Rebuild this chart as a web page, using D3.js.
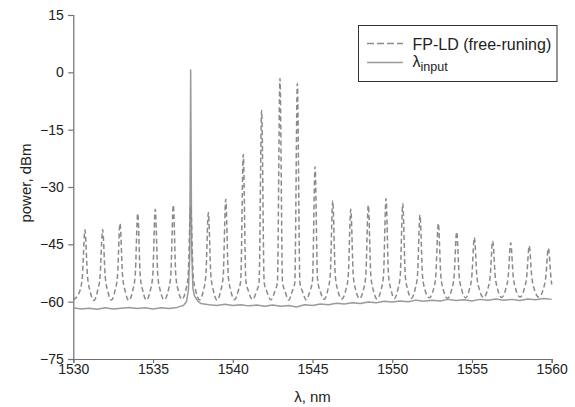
<!DOCTYPE html>
<html>
<head>
<meta charset="utf-8">
<script src="https://cdn.jsdelivr.net/npm/d3@7"></script>
<style>
  html, body { margin: 0; padding: 0; background: #fff; }
  svg { display: block; font-family: "Liberation Sans", Arial, sans-serif; }
</style>
</head>
<body>
<svg id="chart" width="575" height="407"></svg>
<script>
// ---- data ----
const xTicks = [1530, 1535, 1540, 1545, 1550, 1555, 1560];
const yTicks = [15, 0, -15, -30, -45, -60, -75];

// FP-LD (free-runing) spectrum, wavelength (nm) / power (dBm)
const fpWl = [
  1530.00, 1530.41, 1530.57, 1530.73, 1530.89, 1531.05, 1531.285,
  1531.52, 1531.68, 1531.84, 1532.00, 1532.16, 1532.385,
  1532.61, 1532.77, 1532.93, 1533.09, 1533.25, 1533.485,
  1533.72, 1533.88, 1534.04, 1534.20, 1534.36, 1534.59,
  1534.82, 1534.98, 1535.14, 1535.30, 1535.46, 1535.705,
  1535.95, 1536.11, 1536.27, 1536.43, 1536.59, 1536.815,
  1537.04, 1537.20, 1537.36, 1537.52, 1537.68, 1537.915,
  1538.15, 1538.31, 1538.47, 1538.63, 1538.79, 1539.015,
  1539.24, 1539.40, 1539.56, 1539.72, 1539.88, 1540.11,
  1540.34, 1540.50, 1540.66, 1540.82, 1540.98, 1541.235,
  1541.49, 1541.65, 1541.81, 1541.97, 1542.13, 1542.385,
  1542.64, 1542.80, 1542.96, 1543.12, 1543.28, 1543.505,
  1543.73, 1543.89, 1544.05, 1544.21, 1544.37, 1544.605,
  1544.84, 1545.00, 1545.16, 1545.32, 1545.48, 1545.715,
  1545.95, 1546.11, 1546.27, 1546.43, 1546.59, 1546.835,
  1547.08, 1547.24, 1547.40, 1547.56, 1547.72, 1547.95,
  1548.18, 1548.34, 1548.50, 1548.66, 1548.82, 1549.055,
  1549.29, 1549.45, 1549.61, 1549.77, 1549.93, 1550.135,
  1550.34, 1550.50, 1550.66, 1550.82, 1550.98, 1551.20,
  1551.42, 1551.58, 1551.74, 1551.90, 1552.06, 1552.315,
  1552.57, 1552.73, 1552.89, 1553.05, 1553.21, 1553.465,
  1553.72, 1553.88, 1554.04, 1554.20, 1554.36, 1554.595,
  1554.83, 1554.99, 1555.15, 1555.31, 1555.47, 1555.725,
  1555.98, 1556.14, 1556.30, 1556.46, 1556.62, 1556.865,
  1557.11, 1557.27, 1557.43, 1557.59, 1557.75, 1558.01,
  1558.27, 1558.43, 1558.59, 1558.75, 1558.91, 1559.19,
  1559.47, 1559.63, 1559.79, 1559.95, 1560.00
];
const fpDb = [
  -59.6, -57.2, -53.3, -41.2, -53.3, -57.2, -59.7,
  -57.2, -53.3, -41.1, -53.3, -57.2, -59.6,
  -57.2, -53.3, -39.5, -53.3, -57.2, -59.7,
  -57.2, -53.3, -36.9, -53.3, -57.2, -59.6,
  -57.2, -53.3, -35.8, -53.3, -57.2, -59.5,
  -57.2, -53.3, -34.7, -53.3, -57.2, -59.4,
  -57.2, -53.3, -35.0, -53.3, -57.2, -59.5,
  -57.2, -53.3, -36.7, -53.3, -57.2, -59.6,
  -57.2, -53.3, -33.2, -53.3, -57.2, -59.5,
  -57.2, -54.5, -21.5, -54.5, -57.2, -59.4,
  -57.3, -55.0, -10.0, -55.0, -57.3, -59.5,
  -57.3, -55.0,  -1.6, -55.0, -57.3, -59.6,
  -57.3, -55.0,  -2.9, -55.0, -57.3, -59.5,
  -57.2, -54.5, -24.7, -54.5, -57.2, -59.4,
  -57.1, -53.3, -33.6, -53.3, -57.1, -59.3,
  -57.1, -53.3, -35.8, -53.3, -57.1, -59.2,
  -57.1, -53.3, -34.7, -53.3, -57.1, -59.3,
  -57.0, -53.3, -33.0, -53.3, -57.0, -59.2,
  -57.0, -53.3, -34.3, -53.3, -57.0, -59.1,
  -57.0, -53.3, -37.3, -53.3, -57.0, -59.0,
  -57.0, -53.3, -39.5, -53.3, -57.0, -59.1,
  -56.9, -53.3, -41.7, -53.3, -56.9, -59.0,
  -56.9, -53.4, -43.2, -53.4, -56.9, -58.9,
  -56.9, -53.4, -44.1, -53.4, -56.9, -58.9,
  -56.8, -53.5, -44.6, -53.5, -56.8, -58.8,
  -56.8, -53.5, -45.4, -53.5, -56.8, -58.8,
  -56.8, -53.5, -46.0, -53.5, -55.5
];

// λinput spectrum, wavelength (nm) / power (dBm)
const inWl = [
  1530.0, 1530.5, 1531.0, 1531.5, 1532.0, 1532.5, 1533.0, 1533.5, 1534.0, 1534.5,
  1535.0, 1535.5, 1536.0, 1536.5, 1536.9, 1537.1, 1537.22, 1537.30, 1537.36, 1537.42,
  1537.5, 1537.6, 1537.8, 1538.0, 1538.5, 1539.0, 1539.5, 1540.0, 1540.5, 1541.0,
  1541.5, 1542.0, 1542.5, 1543.0, 1543.5, 1544.0, 1544.5, 1545.0, 1545.5, 1546.0,
  1546.5, 1547.0, 1547.5, 1548.0, 1548.5, 1549.0, 1549.5, 1550.0, 1550.5, 1551.0,
  1551.5, 1552.0, 1552.5, 1553.0, 1553.5, 1554.0, 1554.5, 1555.0, 1555.5, 1556.0,
  1556.5, 1557.0, 1557.5, 1558.0, 1558.5, 1559.0, 1559.5, 1560.0
];
const inDb = [
  -61.6, -61.9, -61.7, -62.0, -61.6, -61.9, -61.7, -61.5, -61.8, -61.6,
  -61.9, -61.6, -61.8, -61.5, -61.0, -60.0, -57.0, -48.0, 0.6, -46.0,
  -56.5, -58.5, -59.8, -60.5, -60.8, -61.0, -60.7, -61.0, -60.8, -61.1,
  -60.9, -61.2, -60.9, -61.2, -61.0, -61.4, -60.8, -61.0, -60.6, -60.8,
  -60.4, -60.6, -60.3, -60.5, -60.1, -60.3, -59.9, -60.1, -59.8, -60.0,
  -59.6, -59.9, -59.6, -59.8, -59.4, -59.7, -59.5, -59.8, -59.4, -59.6,
  -59.3, -59.6, -59.4, -59.7, -59.3, -59.5, -59.2, -59.4
];

const legendLabels = ["FP-LD (free-runing)", "λ", "input"];

// ---- layout ----
const W = 575, H = 407;
const margin = { left: 73.3, top: 15, right: 23.3, bottom: 48 };
const svg = d3.select("#chart");

const x = d3.scaleLinear().domain([1530, 1560]).range([margin.left, W - margin.right]);
const y = d3.scaleLinear().domain([-75, 15]).range([H - margin.bottom, margin.top]);

const axisColor = "#6f6f6f";
const textColor = "#222";
const tickFont = 14;

// x axis
const gx = svg.append("g")
  .attr("transform", `translate(0,${H - margin.bottom})`)
  .call(d3.axisBottom(x).tickValues(xTicks).tickFormat(d3.format("d")).tickSizeOuter(0).tickSize(4).tickPadding(1));
gx.select(".domain").attr("stroke", axisColor).attr("stroke-width", 1.2);
gx.selectAll(".tick line").attr("stroke", axisColor).attr("stroke-width", 1.2);
gx.selectAll(".tick text").attr("fill", textColor).attr("font-size", tickFont)
  .attr("font-family", "Liberation Sans, Arial, sans-serif");

// y axis
const gy = svg.append("g")
  .attr("transform", `translate(${margin.left},0)`)
  .call(d3.axisLeft(y).tickValues(yTicks).tickFormat(d => d < 0 ? "\u2212" + Math.abs(d) : String(d)).tickSizeOuter(0).tickSize(5).tickPadding(4.5));
gy.select(".domain").attr("stroke", axisColor).attr("stroke-width", 1.2);
gy.selectAll(".tick line").attr("stroke", axisColor).attr("stroke-width", 1.2);
gy.selectAll(".tick text").attr("fill", textColor).attr("font-size", tickFont)
  .attr("font-family", "Liberation Sans, Arial, sans-serif");

// axis titles
svg.append("text")
  .attr("x", (x.range()[0] + x.range()[1]) / 2)
  .attr("y", 402)
  .attr("text-anchor", "middle")
  .attr("font-size", 15)
  .attr("fill", textColor)
  .text("λ, nm");

svg.append("text")
  .attr("transform", `translate(31,183) rotate(-90)`)
  .attr("text-anchor", "middle")
  .attr("font-size", 15)
  .attr("fill", textColor)
  .text("power, dBm");

// lines
const fpData = fpWl.map((w, i) => [w, fpDb[i]]);
const inData = inWl.map((w, i) => [w, inDb[i]]);

svg.append("path")
  .datum(inData)
  .attr("fill", "none")
  .attr("stroke", "#9a9a9a")
  .attr("stroke-width", 1.5)
  .attr("stroke-linejoin", "round")
  .attr("d", d3.line().x(d => x(d[0])).y(d => y(d[1])).curve(d3.curveLinear));

svg.append("path")
  .datum(fpData)
  .attr("fill", "none")
  .attr("stroke", "#8a8a8a")
  .attr("stroke-width", 1.5)
  .attr("stroke-dasharray", "5,3")
  .attr("d", d3.line().x(d => x(d[0])).y(d => y(d[1])).curve(d3.curveMonotoneX));

// legend
const lg = svg.append("g");
lg.append("rect")
  .attr("x", 358.5).attr("y", 25.5)
  .attr("width", 198.5).attr("height", 56)
  .attr("fill", "#fff").attr("stroke", "#333").attr("stroke-width", 1);
lg.append("line")
  .attr("x1", 367).attr("x2", 403).attr("y1", 43.5).attr("y2", 43.5)
  .attr("stroke", "#8a8a8a").attr("stroke-width", 1.5).attr("stroke-dasharray", "7,3");
lg.append("text")
  .attr("x", 412.5).attr("y", 49.5)
  .attr("font-size", 16).attr("fill", textColor)
  .text(legendLabels[0]);
lg.append("line")
  .attr("x1", 367).attr("x2", 403).attr("y1", 62.5).attr("y2", 62.5)
  .attr("stroke", "#9a9a9a").attr("stroke-width", 1.5);
const t2 = lg.append("text")
  .attr("x", 412.5).attr("y", 66.5)
  .attr("font-size", 16).attr("fill", textColor);
t2.append("tspan").text(legendLabels[1]);
t2.append("tspan").attr("dy", 4).attr("font-size", 12.5).text(legendLabels[2]);
</script>
</body>
</html>
